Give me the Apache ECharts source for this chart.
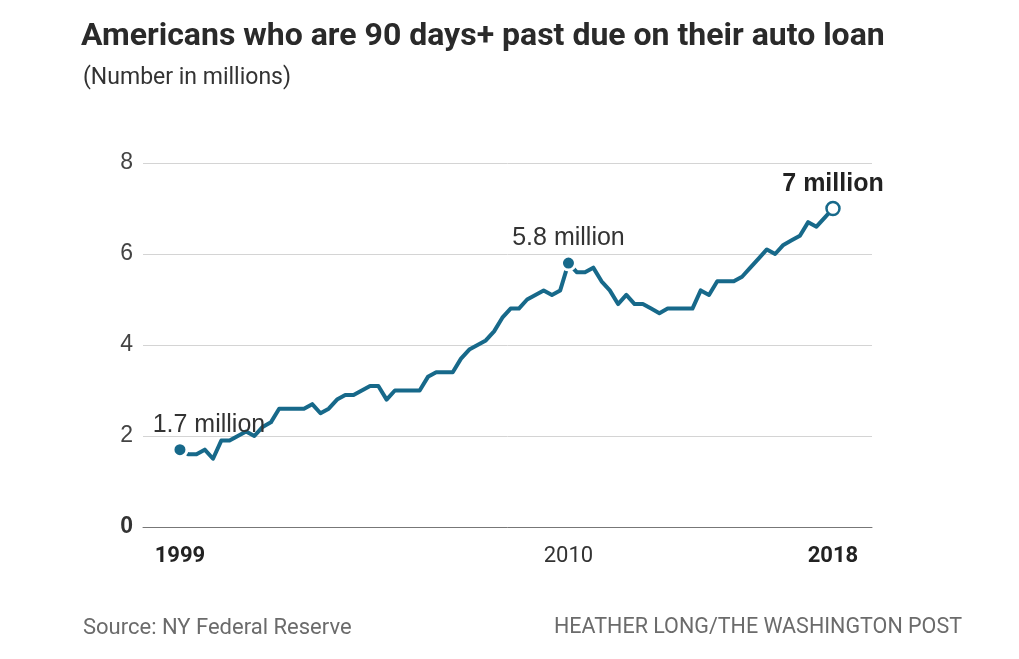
<!DOCTYPE html>
<html>
<head>
<meta charset="UTF-8">
<title>Auto loan delinquency</title>
<script src="https://cdn.jsdelivr.net/npm/echarts@6/dist/echarts.min.js"></script>
<style>
  html, body { margin: 0; padding: 0; background: #fff; }
  #chart { width: 1019px; height: 659px; }
</style>
</head>
<body>
<div id="chart"></div>
<script>
// quarterly, 1999 Q1 .. 2018 Q4 (millions of people 90+ days past due)
var values = [
  1.7, 1.6, 1.6, 1.7,   // 1999
  1.5, 1.9, 1.9, 2.0,   // 2000
  2.1, 2.0, 2.2, 2.3,   // 2001
  2.6, 2.6, 2.6, 2.6,   // 2002
  2.7, 2.5, 2.6, 2.8,   // 2003
  2.9, 2.9, 3.0, 3.1,   // 2004
  3.1, 2.8, 3.0, 3.0,   // 2005
  3.0, 3.0, 3.3, 3.4,   // 2006
  3.4, 3.4, 3.7, 3.9,   // 2007
  4.0, 4.1, 4.3, 4.6,   // 2008
  4.8, 4.8, 5.0, 5.1,   // 2009
  5.2, 5.1, 5.2, 5.8,   // 2010
  5.6, 5.6, 5.7, 5.4,   // 2011
  5.2, 4.9, 5.1, 4.9,   // 2012
  4.9, 4.8, 4.7, 4.8,   // 2013
  4.8, 4.8, 4.8, 5.2,   // 2014
  5.1, 5.4, 5.4, 5.4,   // 2015
  5.5, 5.7, 5.9, 6.1,   // 2016
  6.0, 6.2, 6.3, 6.4,   // 2017
  6.7, 6.6, 6.8, 7.0    // 2018
];
var yTicks = [0, 2, 4, 6, 8];
var xLabelIdx = [0, 47, 79];          // quarters that get a year label
var xLabelText = ['1999', '2010', '2018'];
var callouts = [0, 47, 79];           // annotated points
var calloutText = ['1.7 million', '5.8 million', '7 million'];

var teal = '#17698a';
var sans = 'Liberation Sans, Arial, sans-serif';
var chart = echarts.init(document.getElementById('chart'));

var lineData = values.map(function (v, i) { return [i, v]; });

var pointData = callouts.map(function (idx, k) {
  var last = k === callouts.length - 1;
  var item = {
    value: [idx, values[idx]],
    symbolSize: last ? 13 : 14,
    itemStyle: last
      ? { color: '#fff', borderColor: teal, borderWidth: 2.5, opacity: 1 }
      : { color: teal, borderColor: '#fff', borderWidth: 3, opacity: 1 },
    label: {
      show: true,
      formatter: calloutText[k],
      position: 'top',
      distance: 4,
      fontFamily: sans,
      fontSize: 25,
      color: last ? '#222' : '#333',
      fontWeight: last ? 'bold' : 'normal'
    }
  };
  if (k === 0) item.label.offset = [29, 0];
  return item;
});

var option = {
  animation: false,
  backgroundColor: '#fff',
  title: [
    {
      text: 'Americans who are 90 days+ past due on their auto loan',
      left: 76, top: 16,
      textStyle: { fontFamily: 'Roboto', fontWeight: 'bold', fontSize: 32, color: '#2a2a2a' }
    },
    {
      text: '(Number in millions)',
      left: 78, top: 62,
      textStyle: { fontFamily: 'Roboto', fontWeight: 'normal', fontSize: 23, color: '#333' }
    },
    {
      text: 'Source: NY Federal Reserve',
      left: 78, top: 612,
      textStyle: { fontFamily: 'Roboto', fontWeight: 'normal', fontSize: 22, color: '#6b6b6b' }
    },
    {
      text: 'HEATHER LONG/THE WASHINGTON POST',
      right: 52, top: 612,
      textStyle: { fontFamily: 'Roboto', fontWeight: 'normal', fontSize: 21.5, color: '#6b6b6b' }
    }
  ],
  grid: { left: 143, right: 147, top: 163, bottom: 132 },
  xAxis: {
    type: 'value',
    min: -4.47,
    max: 83.72,
    axisLine: { show: true, onZero: false, lineStyle: { color: '#777', width: 1 } },
    axisTick: { show: false },
    splitLine: { show: false },
    axisLabel: {
      customValues: xLabelIdx,
      margin: 18,
      fontFamily: 'Roboto',
      fontSize: 22,
      color: '#333',
      formatter: function (v) {
        var k = xLabelIdx.indexOf(Math.round(v));
        if (k < 0) return '';
        return k === 1 ? xLabelText[k] : '{b|' + xLabelText[k] + '}';
      },
      rich: { b: { fontFamily: 'Roboto', fontSize: 22, fontWeight: 'bold', color: '#222' } }
    }
  },
  yAxis: {
    type: 'value',
    min: yTicks[0],
    max: yTicks[yTicks.length - 1],
    interval: 2,
    axisLine: { show: false },
    axisTick: { show: false },
    splitLine: { lineStyle: { color: '#d4d4d4', width: 1 } },
    axisLabel: {
      margin: 10,
      fontFamily: sans,
      fontSize: 23,
      color: '#444',
      formatter: function (v) { return v === 0 ? '{b|0}' : String(v); },
      rich: { b: { fontFamily: sans, fontSize: 23, fontWeight: 'bold', color: '#333' } }
    }
  },
  series: [
    {
      type: 'line',
      data: lineData,
      showSymbol: false,
      lineStyle: { color: teal, width: 4, join: 'round' },
      z: 2
    },
    {
      type: 'scatter',
      data: pointData,
      z: 3
    }
  ]
};

chart.setOption(option);
</script>
</body>
</html>
